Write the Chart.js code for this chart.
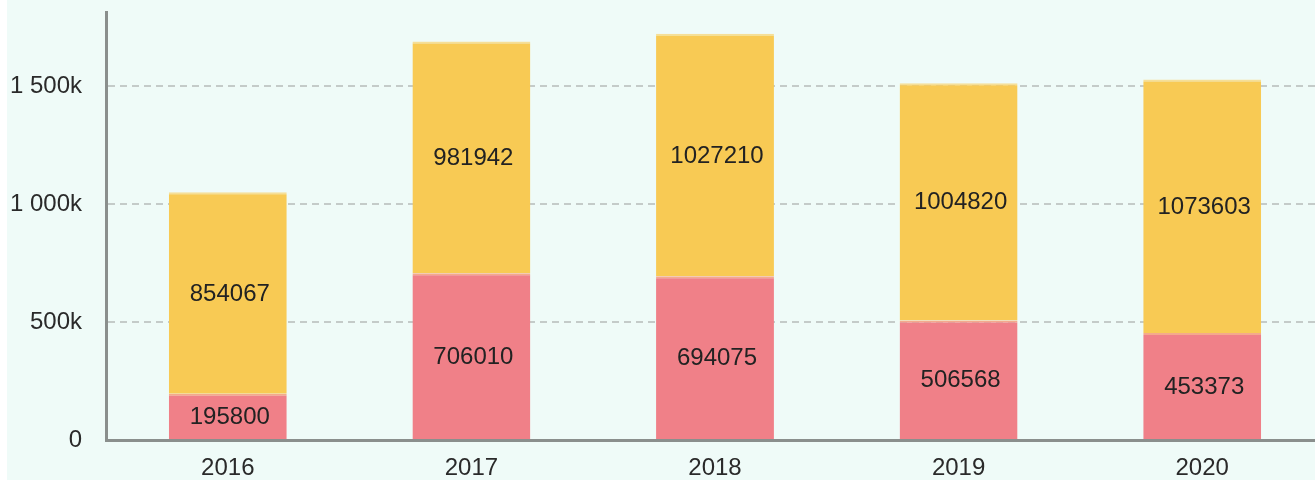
<!DOCTYPE html>
<html>
<head>
<meta charset="utf-8">
<script src="https://cdn.jsdelivr.net/npm/chart.js@4/dist/chart.umd.min.js"></script>
<style>
  html, body { margin: 0; padding: 0; overflow: hidden; width: 1315px; height: 480px;
    background: linear-gradient(to right, #ffffff 0, #ffffff 7px, #effbf8 7px); }
  canvas { position: absolute; left: 0; top: 0; }
</style>
</head>
<body>
<canvas id="c" width="1324" height="480" style="width:1324px;height:480px"></canvas>
<script>
const categories = ['2016', '2017', '2018', '2019', '2020'];
const lowerValues = [195800, 706010, 694075, 506568, 453373];
const upperValues = [854067, 981942, 1027210, 1004820, 1073603];
const yTickValues = [0, 500000, 1000000, 1500000];
const yTickLabels = ['0', '500k', '1 000k', '1 500k'];

const FONT = '"Liberation Sans", Arial, sans-serif';

const barLabels = {
  id: 'barLabels',
  afterDatasetsDraw(chart) {
    const ctx = chart.ctx;
    ctx.save();
    ctx.font = '24px ' + FONT;
    ctx.fillStyle = '#222';
    ctx.textAlign = 'center';
    ctx.textBaseline = 'middle';
    chart.data.datasets.forEach((ds, di) => {
      const meta = chart.getDatasetMeta(di);
      meta.data.forEach((bar, i) => {
        const y = (bar.y + bar.base) / 2;
        ctx.fillText(String(ds.data[i]), bar.x + 2, y + 1);
      });
    });
    ctx.restore();
  }
};

new Chart(document.getElementById('c'), {
  type: 'bar',
  data: {
    labels: categories,
    datasets: [
      {
        data: lowerValues,
        backgroundColor: '#f08088',
        borderColor: '#f4a98c',
        borderWidth: { top: 2, left: 0, right: 0, bottom: 0 },
        borderSkipped: false,
        barPercentage: 0.484,
        categoryPercentage: 1
      },
      {
        data: upperValues,
        backgroundColor: '#f8ca54',
        borderColor: '#f6df97',
        borderWidth: { top: 2, left: 0, right: 0, bottom: 0 },
        borderSkipped: false,
        barPercentage: 0.484,
        categoryPercentage: 1
      }
    ]
  },
  options: {
    responsive: false,
    animation: false,
    layout: { padding: { top: 12, right: 0, left: 0, bottom: 0 } },
    plugins: { legend: { display: false }, tooltip: { enabled: false } },
    scales: {
      x: {
        stacked: true,
        grid: { display: false, drawTicks: false },
        border: { display: true, color: '#8a8f8d', width: 3, z: 1 },
        ticks: { font: { size: 24, family: FONT }, color: '#2a2a2a', padding: 14, autoSkip: false, maxRotation: 0 },
        afterFit(scale) { scale.height = 40; scale.paddingLeft = 0; scale.paddingRight = 0; }
      },
      y: {
        stacked: true,
        min: 0,
        max: 1813000,
        grid: { color: '#c4cbc9', lineWidth: 2, drawTicks: false },
        border: { display: true, color: '#8a8f8d', width: 3, dash: [7, 5], z: 1 },
        ticks: {
          font: { size: 24, family: FONT }, color: '#2a2a2a', padding: 24,
          callback(value) {
            const idx = yTickValues.indexOf(value);
            return idx >= 0 ? yTickLabels[idx] : '';
          }
        },
        afterBuildTicks(scale) { scale.ticks = yTickValues.map(v => ({ value: v })); },
        afterFit(scale) { scale.width = 106; scale.paddingTop = 0; scale.paddingBottom = 0; }
      }
    }
  },
  plugins: [barLabels]
});
</script>
</body>
</html>
